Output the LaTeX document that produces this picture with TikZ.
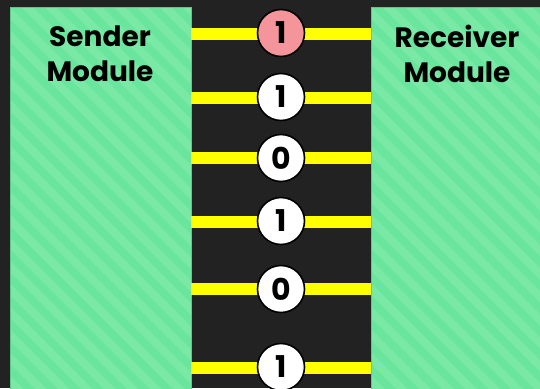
\documentclass[tikz,border=0pt]{standalone}
\usepackage{fontspec}
\setmainfont{Poppins}
\begin{document}
\begin{tikzpicture}[x=1pt,y=-1pt,
  moduletext/.style={font=\bfseries\fontsize{28}{35}\selectfont, align=center, text=black},
  busline/.style={line width=12pt, draw=yellow},
  bitnode/.style={circle, draw=black, line width=1.6pt, minimum size=47pt, inner sep=0pt, fill=white,
    font=\bfseries\fontsize{30}{30}\selectfont},
  hotbit/.style={bitnode, fill=pinkbit}]
\definecolor{bgdark}{HTML}{222222}
\definecolor{greenlight}{HTML}{7BE9A6}
\definecolor{greendark}{HTML}{69E59D}
\definecolor{greenedge}{HTML}{5CC88C}
\definecolor{pinkbit}{HTML}{F4959B}
\definecolor{yellow}{HTML}{FFFF00}
% canvas
\fill[bgdark] (0,0) rectangle (540,388);
\useasboundingbox (0,0) rectangle (540,388);
% striped module boxes
\foreach \xa/\xb in {10/191, 371/545} {
  \begin{scope}
    \clip (\xa,7) rectangle (\xb,395);
    \fill[greenlight] (\xa,7) rectangle (\xb,395);
    \foreach \k in {-20,...,12} {
      \fill[greendark] ({\xa+\k*23},7) -- ({\xa+\k*23+11},7) -- ({\xa+\k*23+11+400},407) -- ({\xa+\k*23+400},407) -- cycle;
    }
  \end{scope}
  \draw[greenedge, line width=0.8pt] (\xa,7) rectangle (\xb,395);
}
\node[moduletext] (sender) at (100,54) {Sender\\Module};
\node[moduletext] (receiver) at (457,54) {Receiver\\Module};
% bus wires and bits
\coordinate (l1) at (191,34);  \coordinate (r1) at (371,34);
\coordinate (l2) at (191,98);  \coordinate (r2) at (371,98);
\coordinate (l3) at (191,158); \coordinate (r3) at (371,158);
\coordinate (l4) at (191,222); \coordinate (r4) at (371,222);
\coordinate (l5) at (191,289); \coordinate (r5) at (371,289);
\coordinate (l6) at (191,368); \coordinate (r6) at (371,368);
\foreach \i in {1,...,6} { \draw[busline] (l\i) -- (r\i); }
\node[hotbit] (b1) at (281,33) {1};
\node[bitnode] (b2) at (281,97) {1};
\node[bitnode] (b3) at (281,158) {0};
\node[bitnode] (b4) at (281,221) {1};
\node[bitnode] (b5) at (281,289) {0};
\node[bitnode] (b6) at (281,367) {1};
\end{tikzpicture}
\end{document}
